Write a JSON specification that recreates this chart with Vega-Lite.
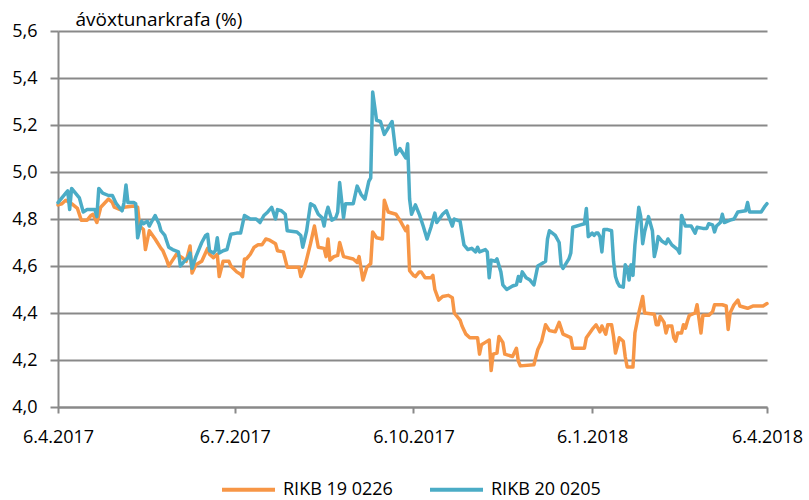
{
  "$schema": "https://vega.github.io/schema/vega-lite/v6.json",
  "autosize": {"type": "none"},
  "width": 709,
  "height": 376,
  "padding": {"left": 58, "top": 31, "right": 42, "bottom": 93},
  "background": "white",
  "config": {
    "font": "Open Sans",
    "view": {"stroke": null}
  },
  "data": {
    "values": [
      {"date": "2017-04-06", "series": "RIKB 19 0226", "value": 4.86},
      {"date": "2017-04-08", "series": "RIKB 19 0226", "value": 4.865},
      {"date": "2017-04-10", "series": "RIKB 19 0226", "value": 4.88},
      {"date": "2017-04-13", "series": "RIKB 19 0226", "value": 4.865},
      {"date": "2017-04-16", "series": "RIKB 19 0226", "value": 4.845},
      {"date": "2017-04-18", "series": "RIKB 19 0226", "value": 4.795},
      {"date": "2017-04-21", "series": "RIKB 19 0226", "value": 4.795},
      {"date": "2017-04-23", "series": "RIKB 19 0226", "value": 4.815},
      {"date": "2017-04-24", "series": "RIKB 19 0226", "value": 4.82},
      {"date": "2017-04-26", "series": "RIKB 19 0226", "value": 4.785},
      {"date": "2017-04-28", "series": "RIKB 19 0226", "value": 4.85},
      {"date": "2017-05-02", "series": "RIKB 19 0226", "value": 4.885},
      {"date": "2017-05-04", "series": "RIKB 19 0226", "value": 4.87},
      {"date": "2017-05-05", "series": "RIKB 19 0226", "value": 4.85},
      {"date": "2017-05-08", "series": "RIKB 19 0226", "value": 4.84},
      {"date": "2017-05-10", "series": "RIKB 19 0226", "value": 4.85},
      {"date": "2017-05-15", "series": "RIKB 19 0226", "value": 4.855},
      {"date": "2017-05-17", "series": "RIKB 19 0226", "value": 4.85},
      {"date": "2017-05-18", "series": "RIKB 19 0226", "value": 4.77},
      {"date": "2017-05-20", "series": "RIKB 19 0226", "value": 4.755},
      {"date": "2017-05-21", "series": "RIKB 19 0226", "value": 4.67},
      {"date": "2017-05-23", "series": "RIKB 19 0226", "value": 4.75},
      {"date": "2017-05-26", "series": "RIKB 19 0226", "value": 4.715},
      {"date": "2017-05-29", "series": "RIKB 19 0226", "value": 4.675},
      {"date": "2017-05-30", "series": "RIKB 19 0226", "value": 4.665},
      {"date": "2017-06-01", "series": "RIKB 19 0226", "value": 4.625},
      {"date": "2017-06-02", "series": "RIKB 19 0226", "value": 4.6},
      {"date": "2017-06-04", "series": "RIKB 19 0226", "value": 4.625},
      {"date": "2017-06-06", "series": "RIKB 19 0226", "value": 4.65},
      {"date": "2017-06-09", "series": "RIKB 19 0226", "value": 4.635},
      {"date": "2017-06-11", "series": "RIKB 19 0226", "value": 4.62},
      {"date": "2017-06-13", "series": "RIKB 19 0226", "value": 4.685},
      {"date": "2017-06-14", "series": "RIKB 19 0226", "value": 4.57},
      {"date": "2017-06-16", "series": "RIKB 19 0226", "value": 4.605},
      {"date": "2017-06-19", "series": "RIKB 19 0226", "value": 4.62},
      {"date": "2017-06-22", "series": "RIKB 19 0226", "value": 4.675},
      {"date": "2017-06-23", "series": "RIKB 19 0226", "value": 4.65},
      {"date": "2017-06-25", "series": "RIKB 19 0226", "value": 4.635},
      {"date": "2017-06-27", "series": "RIKB 19 0226", "value": 4.65},
      {"date": "2017-06-28", "series": "RIKB 19 0226", "value": 4.555},
      {"date": "2017-06-30", "series": "RIKB 19 0226", "value": 4.62},
      {"date": "2017-07-03", "series": "RIKB 19 0226", "value": 4.62},
      {"date": "2017-07-04", "series": "RIKB 19 0226", "value": 4.6},
      {"date": "2017-07-07", "series": "RIKB 19 0226", "value": 4.575},
      {"date": "2017-07-09", "series": "RIKB 19 0226", "value": 4.565},
      {"date": "2017-07-10", "series": "RIKB 19 0226", "value": 4.555},
      {"date": "2017-07-11", "series": "RIKB 19 0226", "value": 4.63},
      {"date": "2017-07-12", "series": "RIKB 19 0226", "value": 4.63},
      {"date": "2017-07-14", "series": "RIKB 19 0226", "value": 4.65},
      {"date": "2017-07-16", "series": "RIKB 19 0226", "value": 4.68},
      {"date": "2017-07-18", "series": "RIKB 19 0226", "value": 4.69},
      {"date": "2017-07-20", "series": "RIKB 19 0226", "value": 4.69},
      {"date": "2017-07-22", "series": "RIKB 19 0226", "value": 4.715},
      {"date": "2017-07-24", "series": "RIKB 19 0226", "value": 4.71},
      {"date": "2017-07-27", "series": "RIKB 19 0226", "value": 4.695},
      {"date": "2017-07-28", "series": "RIKB 19 0226", "value": 4.665},
      {"date": "2017-07-31", "series": "RIKB 19 0226", "value": 4.66},
      {"date": "2017-08-02", "series": "RIKB 19 0226", "value": 4.595},
      {"date": "2017-08-08", "series": "RIKB 19 0226", "value": 4.595},
      {"date": "2017-08-09", "series": "RIKB 19 0226", "value": 4.555},
      {"date": "2017-08-11", "series": "RIKB 19 0226", "value": 4.595},
      {"date": "2017-08-14", "series": "RIKB 19 0226", "value": 4.695},
      {"date": "2017-08-16", "series": "RIKB 19 0226", "value": 4.77},
      {"date": "2017-08-18", "series": "RIKB 19 0226", "value": 4.68},
      {"date": "2017-08-21", "series": "RIKB 19 0226", "value": 4.675},
      {"date": "2017-08-22", "series": "RIKB 19 0226", "value": 4.64},
      {"date": "2017-08-23", "series": "RIKB 19 0226", "value": 4.715},
      {"date": "2017-08-24", "series": "RIKB 19 0226", "value": 4.625},
      {"date": "2017-08-26", "series": "RIKB 19 0226", "value": 4.64},
      {"date": "2017-08-28", "series": "RIKB 19 0226", "value": 4.645},
      {"date": "2017-08-29", "series": "RIKB 19 0226", "value": 4.7},
      {"date": "2017-08-31", "series": "RIKB 19 0226", "value": 4.64},
      {"date": "2017-09-05", "series": "RIKB 19 0226", "value": 4.63},
      {"date": "2017-09-07", "series": "RIKB 19 0226", "value": 4.615},
      {"date": "2017-09-08", "series": "RIKB 19 0226", "value": 4.64},
      {"date": "2017-09-10", "series": "RIKB 19 0226", "value": 4.54},
      {"date": "2017-09-12", "series": "RIKB 19 0226", "value": 4.595},
      {"date": "2017-09-14", "series": "RIKB 19 0226", "value": 4.61},
      {"date": "2017-09-15", "series": "RIKB 19 0226", "value": 4.745},
      {"date": "2017-09-17", "series": "RIKB 19 0226", "value": 4.72},
      {"date": "2017-09-20", "series": "RIKB 19 0226", "value": 4.715},
      {"date": "2017-09-21", "series": "RIKB 19 0226", "value": 4.88},
      {"date": "2017-09-23", "series": "RIKB 19 0226", "value": 4.83},
      {"date": "2017-09-27", "series": "RIKB 19 0226", "value": 4.82},
      {"date": "2017-09-29", "series": "RIKB 19 0226", "value": 4.795},
      {"date": "2017-10-02", "series": "RIKB 19 0226", "value": 4.75},
      {"date": "2017-10-03", "series": "RIKB 19 0226", "value": 4.77},
      {"date": "2017-10-04", "series": "RIKB 19 0226", "value": 4.58},
      {"date": "2017-10-06", "series": "RIKB 19 0226", "value": 4.56},
      {"date": "2017-10-07", "series": "RIKB 19 0226", "value": 4.555},
      {"date": "2017-10-09", "series": "RIKB 19 0226", "value": 4.575},
      {"date": "2017-10-10", "series": "RIKB 19 0226", "value": 4.575},
      {"date": "2017-10-12", "series": "RIKB 19 0226", "value": 4.55},
      {"date": "2017-10-15", "series": "RIKB 19 0226", "value": 4.55},
      {"date": "2017-10-16", "series": "RIKB 19 0226", "value": 4.56},
      {"date": "2017-10-17", "series": "RIKB 19 0226", "value": 4.5},
      {"date": "2017-10-19", "series": "RIKB 19 0226", "value": 4.455},
      {"date": "2017-10-21", "series": "RIKB 19 0226", "value": 4.47},
      {"date": "2017-10-24", "series": "RIKB 19 0226", "value": 4.475},
      {"date": "2017-10-26", "series": "RIKB 19 0226", "value": 4.465},
      {"date": "2017-10-27", "series": "RIKB 19 0226", "value": 4.4},
      {"date": "2017-10-30", "series": "RIKB 19 0226", "value": 4.37},
      {"date": "2017-10-31", "series": "RIKB 19 0226", "value": 4.345},
      {"date": "2017-11-02", "series": "RIKB 19 0226", "value": 4.31},
      {"date": "2017-11-04", "series": "RIKB 19 0226", "value": 4.295},
      {"date": "2017-11-08", "series": "RIKB 19 0226", "value": 4.295},
      {"date": "2017-11-09", "series": "RIKB 19 0226", "value": 4.225},
      {"date": "2017-11-10", "series": "RIKB 19 0226", "value": 4.265},
      {"date": "2017-11-12", "series": "RIKB 19 0226", "value": 4.275},
      {"date": "2017-11-14", "series": "RIKB 19 0226", "value": 4.285},
      {"date": "2017-11-15", "series": "RIKB 19 0226", "value": 4.155},
      {"date": "2017-11-16", "series": "RIKB 19 0226", "value": 4.225},
      {"date": "2017-11-18", "series": "RIKB 19 0226", "value": 4.23},
      {"date": "2017-11-19", "series": "RIKB 19 0226", "value": 4.3},
      {"date": "2017-11-21", "series": "RIKB 19 0226", "value": 4.275},
      {"date": "2017-11-22", "series": "RIKB 19 0226", "value": 4.225},
      {"date": "2017-11-26", "series": "RIKB 19 0226", "value": 4.215},
      {"date": "2017-11-28", "series": "RIKB 19 0226", "value": 4.25},
      {"date": "2017-11-29", "series": "RIKB 19 0226", "value": 4.195},
      {"date": "2017-11-30", "series": "RIKB 19 0226", "value": 4.175},
      {"date": "2017-12-07", "series": "RIKB 19 0226", "value": 4.18},
      {"date": "2017-12-09", "series": "RIKB 19 0226", "value": 4.245},
      {"date": "2017-12-11", "series": "RIKB 19 0226", "value": 4.28},
      {"date": "2017-12-13", "series": "RIKB 19 0226", "value": 4.35},
      {"date": "2017-12-15", "series": "RIKB 19 0226", "value": 4.325},
      {"date": "2017-12-18", "series": "RIKB 19 0226", "value": 4.32},
      {"date": "2017-12-20", "series": "RIKB 19 0226", "value": 4.36},
      {"date": "2017-12-22", "series": "RIKB 19 0226", "value": 4.31},
      {"date": "2017-12-26", "series": "RIKB 19 0226", "value": 4.295},
      {"date": "2017-12-27", "series": "RIKB 19 0226", "value": 4.25},
      {"date": "2018-01-02", "series": "RIKB 19 0226", "value": 4.25},
      {"date": "2018-01-03", "series": "RIKB 19 0226", "value": 4.295},
      {"date": "2018-01-06", "series": "RIKB 19 0226", "value": 4.33},
      {"date": "2018-01-08", "series": "RIKB 19 0226", "value": 4.35},
      {"date": "2018-01-10", "series": "RIKB 19 0226", "value": 4.32},
      {"date": "2018-01-11", "series": "RIKB 19 0226", "value": 4.345},
      {"date": "2018-01-13", "series": "RIKB 19 0226", "value": 4.31},
      {"date": "2018-01-14", "series": "RIKB 19 0226", "value": 4.35},
      {"date": "2018-01-16", "series": "RIKB 19 0226", "value": 4.35},
      {"date": "2018-01-17", "series": "RIKB 19 0226", "value": 4.3},
      {"date": "2018-01-18", "series": "RIKB 19 0226", "value": 4.23},
      {"date": "2018-01-19", "series": "RIKB 19 0226", "value": 4.26},
      {"date": "2018-01-20", "series": "RIKB 19 0226", "value": 4.295},
      {"date": "2018-01-22", "series": "RIKB 19 0226", "value": 4.28},
      {"date": "2018-01-23", "series": "RIKB 19 0226", "value": 4.215},
      {"date": "2018-01-24", "series": "RIKB 19 0226", "value": 4.17},
      {"date": "2018-01-27", "series": "RIKB 19 0226", "value": 4.17},
      {"date": "2018-01-28", "series": "RIKB 19 0226", "value": 4.315},
      {"date": "2018-01-30", "series": "RIKB 19 0226", "value": 4.4},
      {"date": "2018-02-01", "series": "RIKB 19 0226", "value": 4.47},
      {"date": "2018-02-02", "series": "RIKB 19 0226", "value": 4.4},
      {"date": "2018-02-07", "series": "RIKB 19 0226", "value": 4.395},
      {"date": "2018-02-08", "series": "RIKB 19 0226", "value": 4.35},
      {"date": "2018-02-09", "series": "RIKB 19 0226", "value": 4.35},
      {"date": "2018-02-10", "series": "RIKB 19 0226", "value": 4.385},
      {"date": "2018-02-12", "series": "RIKB 19 0226", "value": 4.36},
      {"date": "2018-02-13", "series": "RIKB 19 0226", "value": 4.315},
      {"date": "2018-02-14", "series": "RIKB 19 0226", "value": 4.345},
      {"date": "2018-02-16", "series": "RIKB 19 0226", "value": 4.345},
      {"date": "2018-02-17", "series": "RIKB 19 0226", "value": 4.295},
      {"date": "2018-02-18", "series": "RIKB 19 0226", "value": 4.28},
      {"date": "2018-02-19", "series": "RIKB 19 0226", "value": 4.315},
      {"date": "2018-02-21", "series": "RIKB 19 0226", "value": 4.315},
      {"date": "2018-02-22", "series": "RIKB 19 0226", "value": 4.35},
      {"date": "2018-02-23", "series": "RIKB 19 0226", "value": 4.335},
      {"date": "2018-02-24", "series": "RIKB 19 0226", "value": 4.365},
      {"date": "2018-02-25", "series": "RIKB 19 0226", "value": 4.39},
      {"date": "2018-02-28", "series": "RIKB 19 0226", "value": 4.4},
      {"date": "2018-03-01", "series": "RIKB 19 0226", "value": 4.435},
      {"date": "2018-03-03", "series": "RIKB 19 0226", "value": 4.315},
      {"date": "2018-03-04", "series": "RIKB 19 0226", "value": 4.39},
      {"date": "2018-03-07", "series": "RIKB 19 0226", "value": 4.39},
      {"date": "2018-03-09", "series": "RIKB 19 0226", "value": 4.405},
      {"date": "2018-03-10", "series": "RIKB 19 0226", "value": 4.435},
      {"date": "2018-03-14", "series": "RIKB 19 0226", "value": 4.435},
      {"date": "2018-03-16", "series": "RIKB 19 0226", "value": 4.43},
      {"date": "2018-03-17", "series": "RIKB 19 0226", "value": 4.33},
      {"date": "2018-03-18", "series": "RIKB 19 0226", "value": 4.4},
      {"date": "2018-03-20", "series": "RIKB 19 0226", "value": 4.435},
      {"date": "2018-03-22", "series": "RIKB 19 0226", "value": 4.455},
      {"date": "2018-03-23", "series": "RIKB 19 0226", "value": 4.43},
      {"date": "2018-03-27", "series": "RIKB 19 0226", "value": 4.42},
      {"date": "2018-03-30", "series": "RIKB 19 0226", "value": 4.43},
      {"date": "2018-04-04", "series": "RIKB 19 0226", "value": 4.43},
      {"date": "2018-04-06", "series": "RIKB 19 0226", "value": 4.44},

      {"date": "2017-04-06", "series": "RIKB 20 0205", "value": 4.87},
      {"date": "2017-04-08", "series": "RIKB 20 0205", "value": 4.89},
      {"date": "2017-04-10", "series": "RIKB 20 0205", "value": 4.91},
      {"date": "2017-04-11", "series": "RIKB 20 0205", "value": 4.92},
      {"date": "2017-04-12", "series": "RIKB 20 0205", "value": 4.84},
      {"date": "2017-04-13", "series": "RIKB 20 0205", "value": 4.93},
      {"date": "2017-04-15", "series": "RIKB 20 0205", "value": 4.91},
      {"date": "2017-04-17", "series": "RIKB 20 0205", "value": 4.89},
      {"date": "2017-04-19", "series": "RIKB 20 0205", "value": 4.83},
      {"date": "2017-04-21", "series": "RIKB 20 0205", "value": 4.84},
      {"date": "2017-04-23", "series": "RIKB 20 0205", "value": 4.84},
      {"date": "2017-04-25", "series": "RIKB 20 0205", "value": 4.84},
      {"date": "2017-04-26", "series": "RIKB 20 0205", "value": 4.81},
      {"date": "2017-04-27", "series": "RIKB 20 0205", "value": 4.93},
      {"date": "2017-04-29", "series": "RIKB 20 0205", "value": 4.91},
      {"date": "2017-05-02", "series": "RIKB 20 0205", "value": 4.9},
      {"date": "2017-05-04", "series": "RIKB 20 0205", "value": 4.9},
      {"date": "2017-05-06", "series": "RIKB 20 0205", "value": 4.865},
      {"date": "2017-05-09", "series": "RIKB 20 0205", "value": 4.835},
      {"date": "2017-05-10", "series": "RIKB 20 0205", "value": 4.87},
      {"date": "2017-05-11", "series": "RIKB 20 0205", "value": 4.945},
      {"date": "2017-05-12", "series": "RIKB 20 0205", "value": 4.87},
      {"date": "2017-05-15", "series": "RIKB 20 0205", "value": 4.87},
      {"date": "2017-05-16", "series": "RIKB 20 0205", "value": 4.865},
      {"date": "2017-05-17", "series": "RIKB 20 0205", "value": 4.72},
      {"date": "2017-05-19", "series": "RIKB 20 0205", "value": 4.79},
      {"date": "2017-05-20", "series": "RIKB 20 0205", "value": 4.78},
      {"date": "2017-05-22", "series": "RIKB 20 0205", "value": 4.79},
      {"date": "2017-05-23", "series": "RIKB 20 0205", "value": 4.77},
      {"date": "2017-05-24", "series": "RIKB 20 0205", "value": 4.785},
      {"date": "2017-05-26", "series": "RIKB 20 0205", "value": 4.815},
      {"date": "2017-05-28", "series": "RIKB 20 0205", "value": 4.78},
      {"date": "2017-05-29", "series": "RIKB 20 0205", "value": 4.75},
      {"date": "2017-05-31", "series": "RIKB 20 0205", "value": 4.73},
      {"date": "2017-06-02", "series": "RIKB 20 0205", "value": 4.68},
      {"date": "2017-06-04", "series": "RIKB 20 0205", "value": 4.67},
      {"date": "2017-06-07", "series": "RIKB 20 0205", "value": 4.66},
      {"date": "2017-06-08", "series": "RIKB 20 0205", "value": 4.6},
      {"date": "2017-06-10", "series": "RIKB 20 0205", "value": 4.62},
      {"date": "2017-06-12", "series": "RIKB 20 0205", "value": 4.635},
      {"date": "2017-06-13", "series": "RIKB 20 0205", "value": 4.655},
      {"date": "2017-06-14", "series": "RIKB 20 0205", "value": 4.59},
      {"date": "2017-06-16", "series": "RIKB 20 0205", "value": 4.64},
      {"date": "2017-06-19", "series": "RIKB 20 0205", "value": 4.7},
      {"date": "2017-06-21", "series": "RIKB 20 0205", "value": 4.73},
      {"date": "2017-06-22", "series": "RIKB 20 0205", "value": 4.735},
      {"date": "2017-06-23", "series": "RIKB 20 0205", "value": 4.665},
      {"date": "2017-06-25", "series": "RIKB 20 0205", "value": 4.655},
      {"date": "2017-06-26", "series": "RIKB 20 0205", "value": 4.665},
      {"date": "2017-06-27", "series": "RIKB 20 0205", "value": 4.72},
      {"date": "2017-06-28", "series": "RIKB 20 0205", "value": 4.655},
      {"date": "2017-06-30", "series": "RIKB 20 0205", "value": 4.665},
      {"date": "2017-07-02", "series": "RIKB 20 0205", "value": 4.67},
      {"date": "2017-07-04", "series": "RIKB 20 0205", "value": 4.735},
      {"date": "2017-07-07", "series": "RIKB 20 0205", "value": 4.74},
      {"date": "2017-07-09", "series": "RIKB 20 0205", "value": 4.74},
      {"date": "2017-07-11", "series": "RIKB 20 0205", "value": 4.815},
      {"date": "2017-07-14", "series": "RIKB 20 0205", "value": 4.8},
      {"date": "2017-07-17", "series": "RIKB 20 0205", "value": 4.8},
      {"date": "2017-07-19", "series": "RIKB 20 0205", "value": 4.785},
      {"date": "2017-07-21", "series": "RIKB 20 0205", "value": 4.815},
      {"date": "2017-07-23", "series": "RIKB 20 0205", "value": 4.83},
      {"date": "2017-07-25", "series": "RIKB 20 0205", "value": 4.85},
      {"date": "2017-07-27", "series": "RIKB 20 0205", "value": 4.8},
      {"date": "2017-07-28", "series": "RIKB 20 0205", "value": 4.84},
      {"date": "2017-07-30", "series": "RIKB 20 0205", "value": 4.835},
      {"date": "2017-08-01", "series": "RIKB 20 0205", "value": 4.82},
      {"date": "2017-08-02", "series": "RIKB 20 0205", "value": 4.75},
      {"date": "2017-08-07", "series": "RIKB 20 0205", "value": 4.745},
      {"date": "2017-08-09", "series": "RIKB 20 0205", "value": 4.73},
      {"date": "2017-08-10", "series": "RIKB 20 0205", "value": 4.68},
      {"date": "2017-08-12", "series": "RIKB 20 0205", "value": 4.75},
      {"date": "2017-08-14", "series": "RIKB 20 0205", "value": 4.865},
      {"date": "2017-08-16", "series": "RIKB 20 0205", "value": 4.855},
      {"date": "2017-08-18", "series": "RIKB 20 0205", "value": 4.82},
      {"date": "2017-08-20", "series": "RIKB 20 0205", "value": 4.805},
      {"date": "2017-08-21", "series": "RIKB 20 0205", "value": 4.77},
      {"date": "2017-08-22", "series": "RIKB 20 0205", "value": 4.82},
      {"date": "2017-08-23", "series": "RIKB 20 0205", "value": 4.85},
      {"date": "2017-08-25", "series": "RIKB 20 0205", "value": 4.795},
      {"date": "2017-08-27", "series": "RIKB 20 0205", "value": 4.805},
      {"date": "2017-08-28", "series": "RIKB 20 0205", "value": 4.83},
      {"date": "2017-08-29", "series": "RIKB 20 0205", "value": 4.955},
      {"date": "2017-08-31", "series": "RIKB 20 0205", "value": 4.805},
      {"date": "2017-09-01", "series": "RIKB 20 0205", "value": 4.865},
      {"date": "2017-09-05", "series": "RIKB 20 0205", "value": 4.865},
      {"date": "2017-09-07", "series": "RIKB 20 0205", "value": 4.94},
      {"date": "2017-09-09", "series": "RIKB 20 0205", "value": 4.905},
      {"date": "2017-09-11", "series": "RIKB 20 0205", "value": 4.885},
      {"date": "2017-09-13", "series": "RIKB 20 0205", "value": 4.96},
      {"date": "2017-09-14", "series": "RIKB 20 0205", "value": 4.975},
      {"date": "2017-09-15", "series": "RIKB 20 0205", "value": 5.34},
      {"date": "2017-09-17", "series": "RIKB 20 0205", "value": 5.22},
      {"date": "2017-09-19", "series": "RIKB 20 0205", "value": 5.215},
      {"date": "2017-09-21", "series": "RIKB 20 0205", "value": 5.16},
      {"date": "2017-09-25", "series": "RIKB 20 0205", "value": 5.215},
      {"date": "2017-09-27", "series": "RIKB 20 0205", "value": 5.075},
      {"date": "2017-09-29", "series": "RIKB 20 0205", "value": 5.1},
      {"date": "2017-10-02", "series": "RIKB 20 0205", "value": 5.06},
      {"date": "2017-10-03", "series": "RIKB 20 0205", "value": 5.12},
      {"date": "2017-10-04", "series": "RIKB 20 0205", "value": 4.885},
      {"date": "2017-10-05", "series": "RIKB 20 0205", "value": 4.82},
      {"date": "2017-10-07", "series": "RIKB 20 0205", "value": 4.86},
      {"date": "2017-10-09", "series": "RIKB 20 0205", "value": 4.82},
      {"date": "2017-10-11", "series": "RIKB 20 0205", "value": 4.77},
      {"date": "2017-10-13", "series": "RIKB 20 0205", "value": 4.715},
      {"date": "2017-10-15", "series": "RIKB 20 0205", "value": 4.765},
      {"date": "2017-10-17", "series": "RIKB 20 0205", "value": 4.825},
      {"date": "2017-10-18", "series": "RIKB 20 0205", "value": 4.785},
      {"date": "2017-10-21", "series": "RIKB 20 0205", "value": 4.82},
      {"date": "2017-10-23", "series": "RIKB 20 0205", "value": 4.835},
      {"date": "2017-10-26", "series": "RIKB 20 0205", "value": 4.77},
      {"date": "2017-10-27", "series": "RIKB 20 0205", "value": 4.8},
      {"date": "2017-10-30", "series": "RIKB 20 0205", "value": 4.79},
      {"date": "2017-11-01", "series": "RIKB 20 0205", "value": 4.69},
      {"date": "2017-11-03", "series": "RIKB 20 0205", "value": 4.67},
      {"date": "2017-11-05", "series": "RIKB 20 0205", "value": 4.675},
      {"date": "2017-11-07", "series": "RIKB 20 0205", "value": 4.66},
      {"date": "2017-11-08", "series": "RIKB 20 0205", "value": 4.68},
      {"date": "2017-11-09", "series": "RIKB 20 0205", "value": 4.66},
      {"date": "2017-11-12", "series": "RIKB 20 0205", "value": 4.67},
      {"date": "2017-11-13", "series": "RIKB 20 0205", "value": 4.66},
      {"date": "2017-11-14", "series": "RIKB 20 0205", "value": 4.55},
      {"date": "2017-11-15", "series": "RIKB 20 0205", "value": 4.625},
      {"date": "2017-11-17", "series": "RIKB 20 0205", "value": 4.62},
      {"date": "2017-11-18", "series": "RIKB 20 0205", "value": 4.63},
      {"date": "2017-11-20", "series": "RIKB 20 0205", "value": 4.575},
      {"date": "2017-11-21", "series": "RIKB 20 0205", "value": 4.52},
      {"date": "2017-11-23", "series": "RIKB 20 0205", "value": 4.5},
      {"date": "2017-11-26", "series": "RIKB 20 0205", "value": 4.515},
      {"date": "2017-11-28", "series": "RIKB 20 0205", "value": 4.52},
      {"date": "2017-11-29", "series": "RIKB 20 0205", "value": 4.555},
      {"date": "2017-11-30", "series": "RIKB 20 0205", "value": 4.535},
      {"date": "2017-12-01", "series": "RIKB 20 0205", "value": 4.575},
      {"date": "2017-12-03", "series": "RIKB 20 0205", "value": 4.55},
      {"date": "2017-12-05", "series": "RIKB 20 0205", "value": 4.54},
      {"date": "2017-12-07", "series": "RIKB 20 0205", "value": 4.52},
      {"date": "2017-12-09", "series": "RIKB 20 0205", "value": 4.6},
      {"date": "2017-12-11", "series": "RIKB 20 0205", "value": 4.61},
      {"date": "2017-12-13", "series": "RIKB 20 0205", "value": 4.62},
      {"date": "2017-12-14", "series": "RIKB 20 0205", "value": 4.715},
      {"date": "2017-12-15", "series": "RIKB 20 0205", "value": 4.75},
      {"date": "2017-12-18", "series": "RIKB 20 0205", "value": 4.73},
      {"date": "2017-12-20", "series": "RIKB 20 0205", "value": 4.7},
      {"date": "2017-12-21", "series": "RIKB 20 0205", "value": 4.605},
      {"date": "2017-12-22", "series": "RIKB 20 0205", "value": 4.59},
      {"date": "2017-12-25", "series": "RIKB 20 0205", "value": 4.63},
      {"date": "2017-12-26", "series": "RIKB 20 0205", "value": 4.655},
      {"date": "2017-12-27", "series": "RIKB 20 0205", "value": 4.765},
      {"date": "2017-12-31", "series": "RIKB 20 0205", "value": 4.775},
      {"date": "2018-01-02", "series": "RIKB 20 0205", "value": 4.78},
      {"date": "2018-01-03", "series": "RIKB 20 0205", "value": 4.845},
      {"date": "2018-01-04", "series": "RIKB 20 0205", "value": 4.725},
      {"date": "2018-01-06", "series": "RIKB 20 0205", "value": 4.74},
      {"date": "2018-01-07", "series": "RIKB 20 0205", "value": 4.73},
      {"date": "2018-01-08", "series": "RIKB 20 0205", "value": 4.74},
      {"date": "2018-01-09", "series": "RIKB 20 0205", "value": 4.74},
      {"date": "2018-01-10", "series": "RIKB 20 0205", "value": 4.725},
      {"date": "2018-01-11", "series": "RIKB 20 0205", "value": 4.66},
      {"date": "2018-01-12", "series": "RIKB 20 0205", "value": 4.755},
      {"date": "2018-01-14", "series": "RIKB 20 0205", "value": 4.755},
      {"date": "2018-01-16", "series": "RIKB 20 0205", "value": 4.75},
      {"date": "2018-01-17", "series": "RIKB 20 0205", "value": 4.62},
      {"date": "2018-01-18", "series": "RIKB 20 0205", "value": 4.555},
      {"date": "2018-01-19", "series": "RIKB 20 0205", "value": 4.53},
      {"date": "2018-01-20", "series": "RIKB 20 0205", "value": 4.515},
      {"date": "2018-01-22", "series": "RIKB 20 0205", "value": 4.51},
      {"date": "2018-01-23", "series": "RIKB 20 0205", "value": 4.605},
      {"date": "2018-01-24", "series": "RIKB 20 0205", "value": 4.59},
      {"date": "2018-01-25", "series": "RIKB 20 0205", "value": 4.54},
      {"date": "2018-01-26", "series": "RIKB 20 0205", "value": 4.605},
      {"date": "2018-01-27", "series": "RIKB 20 0205", "value": 4.56},
      {"date": "2018-01-28", "series": "RIKB 20 0205", "value": 4.69},
      {"date": "2018-01-30", "series": "RIKB 20 0205", "value": 4.85},
      {"date": "2018-01-31", "series": "RIKB 20 0205", "value": 4.81},
      {"date": "2018-02-01", "series": "RIKB 20 0205", "value": 4.695},
      {"date": "2018-02-02", "series": "RIKB 20 0205", "value": 4.745},
      {"date": "2018-02-04", "series": "RIKB 20 0205", "value": 4.81},
      {"date": "2018-02-06", "series": "RIKB 20 0205", "value": 4.75},
      {"date": "2018-02-07", "series": "RIKB 20 0205", "value": 4.64},
      {"date": "2018-02-08", "series": "RIKB 20 0205", "value": 4.675},
      {"date": "2018-02-09", "series": "RIKB 20 0205", "value": 4.725},
      {"date": "2018-02-11", "series": "RIKB 20 0205", "value": 4.705},
      {"date": "2018-02-13", "series": "RIKB 20 0205", "value": 4.695},
      {"date": "2018-02-14", "series": "RIKB 20 0205", "value": 4.715},
      {"date": "2018-02-16", "series": "RIKB 20 0205", "value": 4.69},
      {"date": "2018-02-19", "series": "RIKB 20 0205", "value": 4.67},
      {"date": "2018-02-20", "series": "RIKB 20 0205", "value": 4.655},
      {"date": "2018-02-21", "series": "RIKB 20 0205", "value": 4.815},
      {"date": "2018-02-23", "series": "RIKB 20 0205", "value": 4.77},
      {"date": "2018-02-26", "series": "RIKB 20 0205", "value": 4.77},
      {"date": "2018-02-28", "series": "RIKB 20 0205", "value": 4.74},
      {"date": "2018-03-01", "series": "RIKB 20 0205", "value": 4.765},
      {"date": "2018-03-04", "series": "RIKB 20 0205", "value": 4.76},
      {"date": "2018-03-06", "series": "RIKB 20 0205", "value": 4.76},
      {"date": "2018-03-07", "series": "RIKB 20 0205", "value": 4.78},
      {"date": "2018-03-09", "series": "RIKB 20 0205", "value": 4.775},
      {"date": "2018-03-10", "series": "RIKB 20 0205", "value": 4.745},
      {"date": "2018-03-11", "series": "RIKB 20 0205", "value": 4.77},
      {"date": "2018-03-13", "series": "RIKB 20 0205", "value": 4.785},
      {"date": "2018-03-14", "series": "RIKB 20 0205", "value": 4.82},
      {"date": "2018-03-15", "series": "RIKB 20 0205", "value": 4.785},
      {"date": "2018-03-18", "series": "RIKB 20 0205", "value": 4.795},
      {"date": "2018-03-20", "series": "RIKB 20 0205", "value": 4.8},
      {"date": "2018-03-22", "series": "RIKB 20 0205", "value": 4.83},
      {"date": "2018-03-26", "series": "RIKB 20 0205", "value": 4.835},
      {"date": "2018-03-27", "series": "RIKB 20 0205", "value": 4.87},
      {"date": "2018-03-28", "series": "RIKB 20 0205", "value": 4.83},
      {"date": "2018-04-03", "series": "RIKB 20 0205", "value": 4.83},
      {"date": "2018-04-05", "series": "RIKB 20 0205", "value": 4.855},
      {"date": "2018-04-06", "series": "RIKB 20 0205", "value": 4.865}
    ]
  },
  "mark": {"type": "line", "strokeWidth": 3.5, "strokeJoin": "round", "strokeCap": "round"},
  "encoding": {
    "x": {
      "field": "date",
      "type": "temporal",
      "scale": {
        "type": "utc",
        "domain": [
          {"year": 2017, "month": 4, "date": 6, "utc": true},
          {"year": 2018, "month": 4, "date": 6, "utc": true}
        ]
      },
      "axis": {
        "title": null,
        "values": [
          {"year": 2017, "month": 4, "date": 6, "utc": true},
          {"year": 2017, "month": 7, "date": 6, "utc": true},
          {"year": 2017, "month": 10, "date": 6, "utc": true},
          {"year": 2018, "month": 1, "date": 6, "utc": true},
          {"year": 2018, "month": 4, "date": 6, "utc": true}
        ],
        "labelExpr": "utcdate(datum.value) + '.' + (utcmonth(datum.value) + 1) + '.' + utcyear(datum.value)",
        "grid": false,
        "domain": true,
        "domainColor": "#898989",
        "domainWidth": 2,
        "ticks": true,
        "tickColor": "#898989",
        "tickWidth": 2,
        "tickSize": 6,
        "labelPadding": 15,
        "labelFontSize": 18,
        "labelFont": "Open Sans",
        "labelColor": "#000000",
        "labelFlush": false,
        "labelOverlap": false
      }
    },
    "y": {
      "field": "value",
      "type": "quantitative",
      "scale": {"domain": [4.0, 5.6], "zero": false, "nice": false},
      "axis": {
        "title": "ávöxtunarkrafa (%)",
        "titleAngle": 0,
        "titleAlign": "left",
        "titleBaseline": "alphabetic",
        "titleX": 17,
        "titleY": -6,
        "titleFont": "Open Sans",
        "titleFontSize": 19,
        "titleFontWeight": "normal",
        "titleColor": "#000000",
        "values": [4.0, 4.2, 4.4, 4.6, 4.8, 5.0, 5.2, 5.4, 5.6],
        "labelExpr": "replace(format(datum.value, '.1f'), '.', ',')",
        "grid": true,
        "gridColor": "#898989",
        "gridWidth": 2,
        "domain": true,
        "domainColor": "#898989",
        "domainWidth": 2,
        "tickColor": "#898989",
        "tickWidth": 2,
        "tickSize": 8,
        "labelPadding": 13,
        "labelFontSize": 18,
        "labelFont": "Open Sans",
        "labelColor": "#000000"
      }
    },
    "color": {
      "field": "series",
      "type": "nominal",
      "scale": {
        "domain": ["RIKB 19 0226", "RIKB 20 0205"],
        "range": ["#F79646", "#4BACC6"]
      },
      "legend": {
        "title": null,
        "orient": "none",
        "direction": "horizontal",
        "legendX": 162,
        "legendY": 430,
        "symbolType": "stroke",
        "symbolStrokeWidth": 4,
        "symbolSize": 2809,
        "labelFont": "Open Sans",
        "labelFontSize": 18,
        "labelColor": "#000000",
        "labelOffset": 6,
        "columnPadding": 29,
        "labelLimit": 300
      }
    }
  }
}
